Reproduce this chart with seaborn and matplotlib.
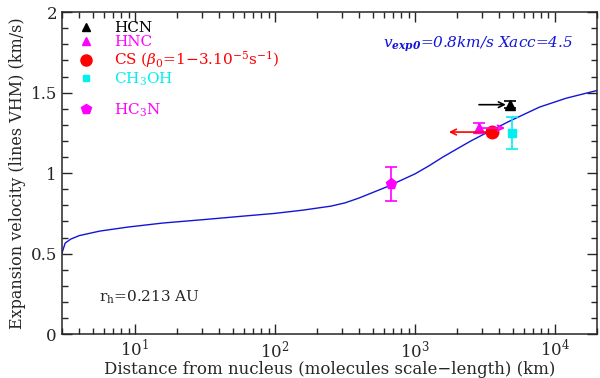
import numpy as np
import pandas as pd
import matplotlib
matplotlib.use('Agg')
import matplotlib.pyplot as plt
from matplotlib.lines import Line2D
from matplotlib.ticker import FormatStrFormatter, LogLocator, NullFormatter, MultipleLocator
import seaborn as sns

# ─── Data ───
curve_x = [3.0, 3.17, 3.47, 4.0, 5.6, 8.9, 15.8, 31.6, 63.1, 100, 158, 251, 316, 398,
           501, 631, 794, 1000, 1259, 1585, 1995, 2512, 3162, 4677, 7762, 12020, 17380, 20000]
curve_v = [0.50, 0.565, 0.59, 0.612, 0.64, 0.665, 0.69, 0.712, 0.735, 0.75, 0.77, 0.795,
           0.815, 0.845, 0.88, 0.915, 0.955, 0.995, 1.045, 1.10, 1.15, 1.20, 1.245, 1.32,
           1.41, 1.465, 1.50, 1.513]

mols = ['HCN', 'HNC', 'CS', 'CH3OH', 'HC3N']
mol_labels = ['HCN', 'HNC', r'CS ($\beta_0$=1$-$3.10$^{-5}$s$^{-1}$)',
              r'CH$_3$OH', r'HC$_3$N']
mol_x = [4780, 2870, 3560, 4930, 680]
mol_v = [1.425, 1.28, 1.255, 1.25, 0.93]
mol_err = [0.02, 0.03, 0.015, 0.10, 0.105]
arrow_to = [None, 4400, 1750, None, None]   # arrow head x (km)
arrow_from = [2870, None, None, None, None]  # HCN arrow comes from the left

colors = ['black', '#ff00ff', '#ff0000', '#00f0f0', '#ff00ff']
markers = ['^', '^', 'o', 's', 'p']
msizes = [7, 7, 9, 6, 8]

df = pd.DataFrame({'x': curve_x, 'v': curve_v})

# ─── Figure ───
sns.set_style('ticks')
plt.rcParams['font.family'] = ['DejaVu Serif']
plt.rcParams['mathtext.fontset'] = 'dejavuserif'

fig = plt.figure(figsize=(6, 3.78), dpi=100)
ax = fig.add_axes([0.103, 0.116, 0.892, 0.852])

sns.lineplot(data=df, x='x', y='v', color='#1414d8', lw=1.0, ax=ax, legend=False)

for i, m in enumerate(mols):
    ax.errorbar(mol_x[i], mol_v[i], yerr=mol_err[i], fmt=markers[i], color=colors[i],
                ms=msizes[i], capsize=4, elinewidth=1.2, capthick=1.2, zorder=5)
    if arrow_to[i] is not None:
        ax.annotate('', xy=(arrow_to[i], mol_v[i]), xytext=(mol_x[i], mol_v[i]),
                    arrowprops=dict(arrowstyle='->', color=colors[i], lw=1.2,
                                    shrinkA=0, shrinkB=0), zorder=6)
    if arrow_from[i] is not None:
        ax.annotate('', xy=(mol_x[i], mol_v[i]), xytext=(arrow_from[i], mol_v[i]),
                    arrowprops=dict(arrowstyle='->', color=colors[i], lw=1.2,
                                    shrinkA=0, shrinkB=3), zorder=6)

ax.set_xscale('log')
ax.set_xlim(3, 2e4)
ax.set_ylim(0, 2)
ax.yaxis.set_major_locator(MultipleLocator(0.5))
ax.yaxis.set_minor_locator(MultipleLocator(0.1))
ax.yaxis.set_major_formatter(FormatStrFormatter('%g'))
ax.xaxis.set_minor_locator(LogLocator(base=10, subs=np.arange(2, 10)))
ax.xaxis.set_minor_formatter(NullFormatter())
ax.tick_params(which='both', direction='in', top=True, right=True, labelsize=12, width=1)
ax.tick_params(which='major', length=7)
ax.tick_params(which='minor', length=4)
for s in ax.spines.values():
    s.set_linewidth(1.1)

ax.set_xlabel('Distance from nucleus (molecules scale\u2212length) (km)', fontsize=12, labelpad=0)
ax.set_ylabel('Expansion velocity (lines VHM) (km/s)', fontsize=11.5, labelpad=3)

# legend with a gap before HC3N
handles, labels, lcolors = [], [], []
for i in range(len(mols)):
    if i == 4:
        handles.append(Line2D([], [], ls='none'))
        labels.append(' ')
        lcolors.append('white')
    handles.append(Line2D([], [], ls='none', marker=markers[i], color=colors[i], ms=msizes[i] - 1))
    labels.append(mol_labels[i])
    lcolors.append(colors[i])
ax.legend(handles, labels, loc='upper left', frameon=False, fontsize=11, labelcolor=lcolors,
          handletextpad=0.8, labelspacing=0.0, borderaxespad=0.2, bbox_to_anchor=(0.0, 1.0))

ax.text(0.955, 0.90, r'$v_{\mathbfit{exp0}}$=0.8km/s Xacc=4.5', transform=ax.transAxes,
        ha='right', va='center', color='#1414d8', fontsize=11, style='italic')
ax.text(0.07, 0.115, r'r$_\mathrm{h}$=0.213 AU', transform=ax.transAxes,
        ha='left', va='center', fontsize=11)

fig.savefig('out.png', dpi=100)
